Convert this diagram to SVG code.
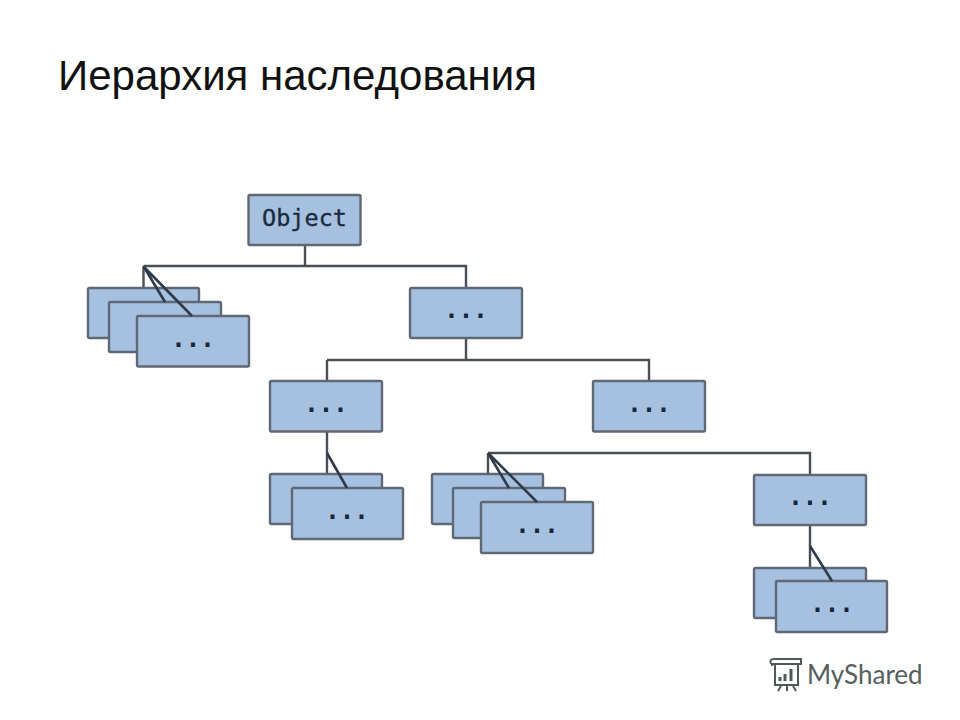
<svg xmlns="http://www.w3.org/2000/svg" width="960" height="720" viewBox="0 0 960 720">
<style>
.n{fill:#a6c0e0;stroke:#5f6874;stroke-width:2.4}
.c{fill:none;stroke:#4a4f55;stroke-width:2.4}
.d{fill:none;stroke:#2f3a4a;stroke-width:2.6}
.t{font-family:"DejaVu Sans Mono","Liberation Mono",monospace;font-size:24px;fill:#16263a;text-anchor:middle;font-weight:bold}
.o{font-family:"DejaVu Sans Mono","Liberation Mono",monospace;font-size:23.500px;fill:#1a2a3e;stroke:#1a2a3e;stroke-width:.3;text-anchor:middle}
.h{font-family:"Liberation Sans",Arial,sans-serif;font-size:42px;fill:#111}
</style>
<rect width="960" height="720" fill="#fff"/>
<text class="h" x="58" y="90">Иерархия наследования</text>
<g id="connectors-back">
<path class="c" d="M305 246V266M143.500 266H466V288M143.500 266V288M466 339V360M327 360H649V381M327 360V381M327 432V474M488 453H810V475M488 453V474M810 525V568"/>
</g>
<g id="node-object"><rect class="n" x="248.500" y="195" width="112" height="50" rx="1.500"/><text class="o" x="304.500" y="226">Object</text></g>
<g id="node-a1"><rect class="n" x="88" y="288" width="111" height="50" rx="1.500"/></g>
<g id="node-a2"><rect class="n" x="109" y="302" width="112" height="50" rx="1.500"/></g>
<g id="node-a3"><rect class="n" x="137" y="316" width="112" height="50.500" rx="1.500"/><text class="t" x="193" y="347">...</text></g>
<g id="node-b"><rect class="n" x="410" y="288" width="112" height="50" rx="1.500"/><text class="t" x="466" y="318">...</text></g>
<g id="node-c"><rect class="n" x="270" y="381" width="112" height="50.500" rx="1.500"/><text class="t" x="326" y="412">...</text></g>
<g id="node-d"><rect class="n" x="593" y="381" width="112" height="50.500" rx="1.500"/><text class="t" x="649" y="412">...</text></g>
<g id="node-e1"><rect class="n" x="270" y="474" width="112" height="50" rx="1.500"/></g>
<g id="node-e2"><rect class="n" x="292" y="488" width="111" height="51" rx="1.500"/><text class="t" x="347" y="519">...</text></g>
<g id="node-f1"><rect class="n" x="432" y="474" width="111" height="50" rx="1.500"/></g>
<g id="node-f2"><rect class="n" x="453" y="488" width="112" height="50" rx="1.500"/></g>
<g id="node-f3"><rect class="n" x="481" y="502" width="112" height="51" rx="1.500"/><text class="t" x="537" y="533">...</text></g>
<g id="node-g"><rect class="n" x="754" y="475" width="112" height="50" rx="1.500"/><text class="t" x="810" y="505">...</text></g>
<g id="node-h1"><rect class="n" x="754" y="568" width="112" height="50" rx="1.500"/></g>
<g id="node-h2"><rect class="n" x="776" y="581" width="111" height="51" rx="1.500"/><text class="t" x="832" y="612">...</text></g>
<g id="connectors">
<path class="d" d="M144 267L165 302M144 267L192 316M327 453L347 488M488 453L509 488M488 453L537 502M810 546L832 581"/>
</g>
<g id="logo" fill="none" stroke="#4f5a58" stroke-width="2">
<path d="M771 664Q769 659 774 659H801V664H772V666M775 664V685H798V664"/>
<path d="M780 681V677M785 681V674M791 681V669" stroke-width="3"/>
<path d="M781 686L778 691M787 686V691M793 686L796 691"/>
<text x="807" y="684" font-family="Lato,'Open Sans',sans-serif" font-size="26" fill="#55605e" stroke="none">MyShared</text>
</g>
</svg>
